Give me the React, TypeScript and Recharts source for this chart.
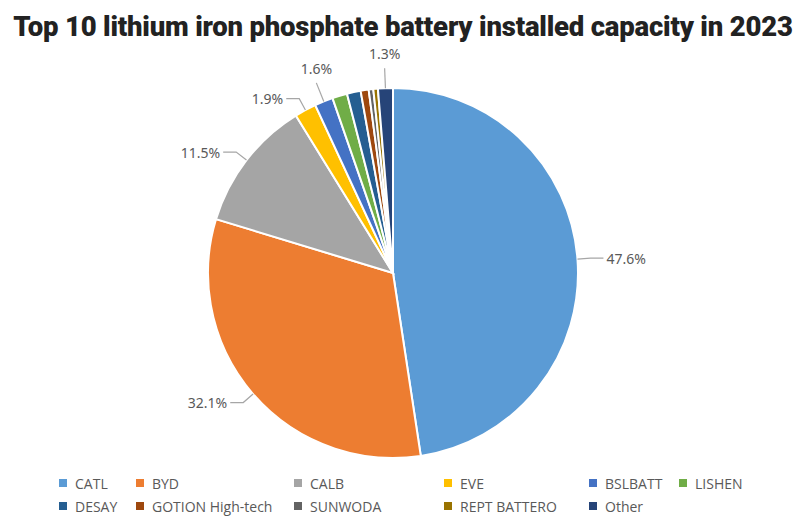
import { Cell, Legend, Pie, PieChart } from "recharts";

const NAMES = [
  "CATL",
  "BYD",
  "CALB",
  "EVE",
  "BSLBATT",
  "LISHEN",
  "DESAY",
  "GOTION High-tech",
  "SUNWODA",
  "REPT BATTERO",
  "Other",
];
const SHARES = [47.6, 32.1, 11.5, 1.9, 1.6, 1.3, 1.2, 0.7, 0.4, 0.4, 1.3];
const COLORS = [
  "#5b9bd5",
  "#ed7d31",
  "#a5a5a5",
  "#ffc000",
  "#4472c4",
  "#70ad47",
  "#255e91",
  "#9e480e",
  "#636363",
  "#997300",
  "#264478",
];
const LABELED = ["CATL", "BYD", "CALB", "EVE", "BSLBATT", "Other"];

const data = NAMES.map((name, i) => ({ name, value: SHARES[i] }));

const RAD = Math.PI / 180;
const LEGEND_COLS = "77px 158px 150px 145px 90px 80px";

function renderLabel(props: any) {
  const { cx, cy, midAngle, outerRadius, payload } = props;
  if (!LABELED.includes(payload.name)) return null;
  const cos = Math.cos(-midAngle * RAD);
  const sin = Math.sin(-midAngle * RAD);
  const x0 = cx + outerRadius * cos;
  const y0 = cy + outerRadius * sin;
  const text = `${payload.value.toFixed(1)}%`;
  const style = { fontSize: 14, fill: "#595959", fontFamily: "Noto Sans" };

  if (Math.abs(cos) > 0.4) {
    const x1 = cx + (outerRadius + 13) * cos;
    const y1 = cy + (outerRadius + 13) * sin;
    const dir = cos > 0 ? 1 : -1;
    const x2 = x1 + dir * 13;
    return (
      <g>
        <polyline points={`${x0},${y0} ${x1},${y1} ${x2},${y1}`} fill="none" stroke="#a6a6a6" strokeWidth={1.2} />
        <text x={x2 + dir * 3} y={y1} textAnchor={dir > 0 ? "start" : "end"} dominantBaseline="central" style={style}>
          {text}
        </text>
      </g>
    );
  }
  const x1 = cx + (outerRadius + 20) * cos;
  const y1 = cy + (outerRadius + 20) * sin;
  return (
    <g>
      <line x1={x0} y1={y0} x2={x1} y2={y1} stroke="#a6a6a6" strokeWidth={1.2} />
      <text x={x1} y={y1 - 9} textAnchor="middle" style={style}>
        {text}
      </text>
    </g>
  );
}

function LegendBox() {
  return (
    <div
      style={{
        display: "grid",
        gridTemplateColumns: LEGEND_COLS,
        rowGap: 5,
        paddingLeft: 59,
        fontFamily: "Open Sans",
        fontSize: 14,
        color: "#595959",
      }}
    >
      {data.map((d, i) => (
        <div key={d.name} style={{ display: "flex", alignItems: "center", whiteSpace: "nowrap", height: 18 }}>
          <span style={{ width: 8, height: 8, background: COLORS[i], marginRight: 8, display: "inline-block" }} />
          {d.name}
        </div>
      ))}
    </div>
  );
}

export default function App() {
  return (
    <div style={{ position: "absolute", left: 0, top: 0, width: 800, height: 518, background: "#fff" }}>
      <div
        style={{
          position: "absolute",
          left: 0,
          top: 9,
          width: 806,
          textAlign: "center",
          fontFamily: "Roboto",
          fontWeight: 900,
          fontSize: 27.5,
          lineHeight: "36px",
          color: "#222222",
          letterSpacing: -0.2,
          whiteSpace: "nowrap",
        }}
      >
        Top 10 lithium iron phosphate battery installed capacity in 2023
      </div>
      <PieChart
        width={800}
        height={518}
        margin={{ top: 0, right: 0, bottom: 0, left: 0 }}
        style={{ position: "absolute", left: 0, top: 0 }}
      >
        <Pie
          data={data}
          dataKey="value"
          nameKey="name"
          cx={393}
          cy={273}
          outerRadius={185}
          startAngle={90}
          endAngle={-270}
          stroke="#ffffff"
          strokeWidth={2}
          label={renderLabel}
          labelLine={false}
          isAnimationActive={false}
        >
          {data.map((d, i) => (
            <Cell key={d.name} fill={COLORS[i]} />
          ))}
        </Pie>
        <Legend
          content={() => <LegendBox />}
          layout="horizontal"
          verticalAlign="bottom"
          wrapperStyle={{ left: 0, top: 474, width: 800 }}
        />
      </PieChart>
    </div>
  );
}
